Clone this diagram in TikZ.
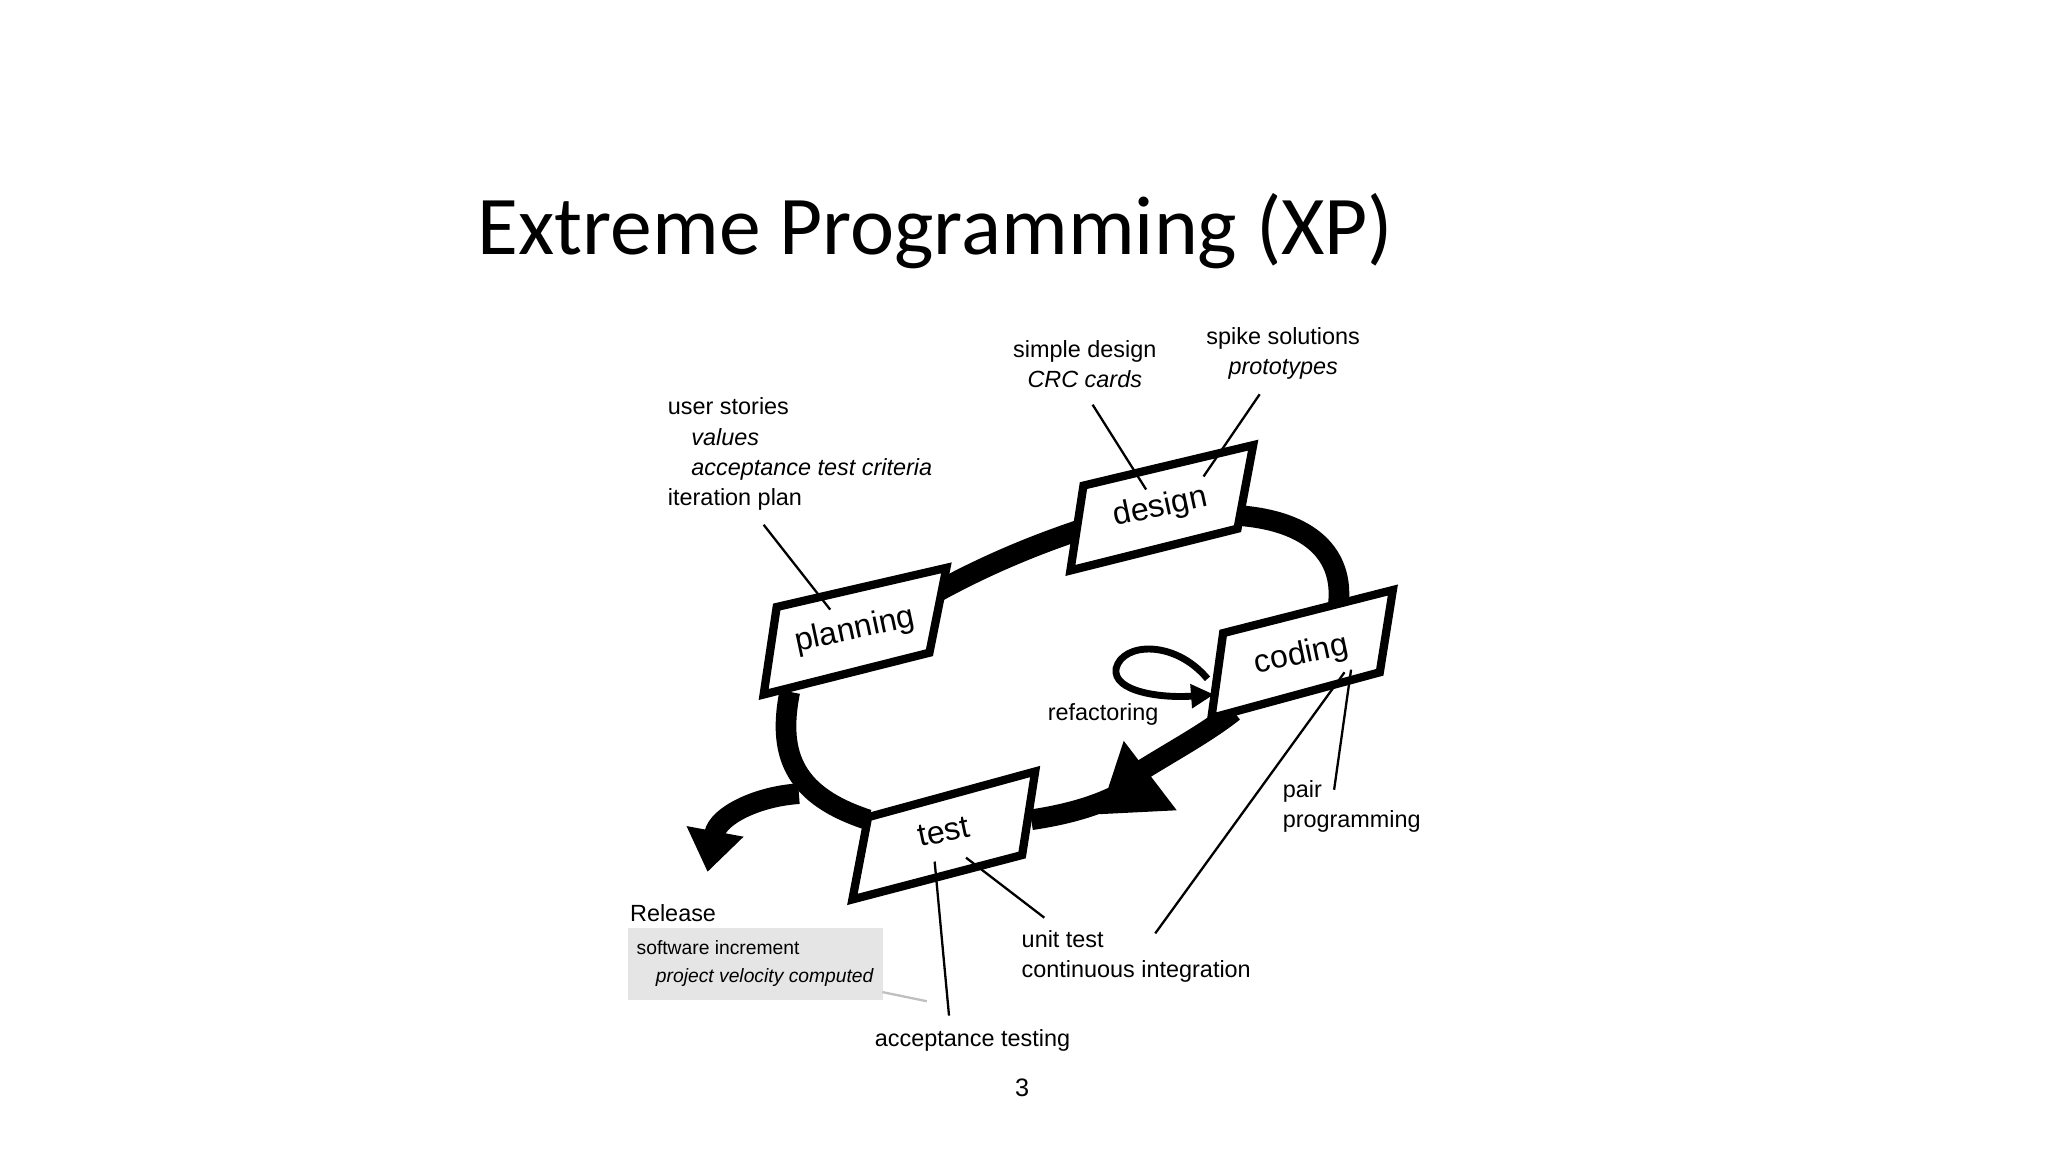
\documentclass[tikz,border=0pt]{standalone}
\usepackage{fontspec}
\setmainfont{Liberation Sans}
\newfontfamily\titlefont{Carlito}
\usetikzlibrary{arrows.meta}
\tikzset{
 lbl/.style={font=\fontsize{5.1}{6.6}\selectfont,align=left,inner sep=0pt,anchor=north west},
 phase/.style={draw,line width=1.8pt,fill=white},
 ptext/.style={font=\fontsize{7}{8}\selectfont,rotate=12},
 band/.style={line width=4.5pt,line cap=butt},
 thin/.style={line width=0.5pt}
}
\begin{document}
\begin{tikzpicture}
\useasboundingbox (0,0) rectangle (15.68,8.82);
\begin{scope}[x=0.01cm,y=-0.01cm,yshift=8.82cm]
\node[font=\titlefont\fontsize{18.2}{22}\selectfont,anchor=base west,inner sep=0pt] (title) at (365,195) {Extreme Programming (XP)};
% loop band
\draw[band] (605,530) .. controls (595,580) and (610,610) .. (665,628);
\draw[band,-{Triangle[length=9pt,width=12pt]}] (612,608) .. controls (580,610) and (550,625) .. (542,668);
\draw[band] (715,455) .. controls (760,430) and (800,415) .. (830,405);
\draw[band] (950,395) .. controls (1010,400) and (1030,430) .. (1025,465);
\draw[band] (945,545) .. controls (920,565) and (880,585) .. (860,600);
\draw[band,-{Triangle[length=14pt,width=18pt]}] (790,628) .. controls (830,622) and (855,612) .. (880,595) -- (842,624);
% phase boxes
\draw[phase] (595,465) -- (725,435) -- (712,500) -- (585,532) -- cycle;
\node[ptext] (planning) at (655,483) {planning};
\draw[phase] (830,372) -- (960,341) -- (948,405) -- (820,437) -- cycle;
\node[ptext] (design) at (889,389) {design};
\draw[phase] (937,485) -- (1067,452) -- (1057,515) -- (928,550) -- cycle;
\node[ptext] (coding) at (997,502) {coding};
\draw[phase] (665,626) -- (793,591) -- (783,655) -- (653,689) -- cycle;
\node[ptext] (test) at (723,637) {test};
% refactoring loop
\draw[line width=1.5pt,-{Triangle[length=5pt,width=5pt]}] (925,520) .. controls (900,490) and (860,492) .. (855,512) .. controls (852,530) and (890,535) .. (930,532);
% labels
\node[lbl] (us) at (511,304) {user stories\\\quad\textit{values}\\\quad\textit{acceptance test criteria}\\iteration plan};
\node[lbl,align=center,anchor=north] (sd) at (831,260) {simple design\\\textit{CRC cards}};
\node[lbl,align=center,anchor=north] (sp) at (983,250) {spike solutions\\\textit{prototypes}};
\node[lbl] (ref) at (802,538) {refactoring};
\node[lbl] (pp) at (982,597) {pair\\programming};
\node[lbl] (ut) at (782,712) {unit test\\continuous integration};
\node[lbl,anchor=north] (at) at (745,788) {acceptance testing};
\node[lbl] (rel) at (482,692) {Release};
\node[fill=black!10,minimum width=196*0.01cm,minimum height=55*0.01cm,anchor=north west,inner sep=0pt] (rbox) at (480,710) {};
\node[lbl,font=\fontsize{4.2}{5.5}\selectfont] (rtext) at (487,720) {software increment\\[0.5pt]\quad\textit{project velocity computed}};
\node[font=\fontsize{5.5}{7}\selectfont] (pg) at (783,833) {3};
% connectors
\coordinate (c1) at (585,402); \coordinate (c1e) at (636,467);
\draw[thin] (c1) -- (c1e);
\coordinate (c2) at (837,310); \coordinate (c2e) at (878,375);
\draw[thin] (c2) -- (c2e);
\coordinate (c3) at (965,302); \coordinate (c3e) at (922,365);
\draw[thin] (c3) -- (c3e);
\coordinate (c4) at (1022,605); \coordinate (c4e) at (1035,513);
\draw[thin] (c4) -- (c4e);
\coordinate (c5) at (885,715); \coordinate (c5e) at (1030,515);
\draw[thin] (c5) -- (c5e);
\coordinate (c6) at (800,703); \coordinate (c6e) at (740,657);
\draw[thin] (c6) -- (c6e);
\coordinate (c7) at (727,778); \coordinate (c7e) at (716,660);
\draw[thin] (c7) -- (c7e);
\coordinate (c8) at (676,760); \coordinate (c8e) at (710,767);
\draw[thin,black!25] (c8) -- (c8e);
\end{scope}
\end{tikzpicture}
\end{document}
